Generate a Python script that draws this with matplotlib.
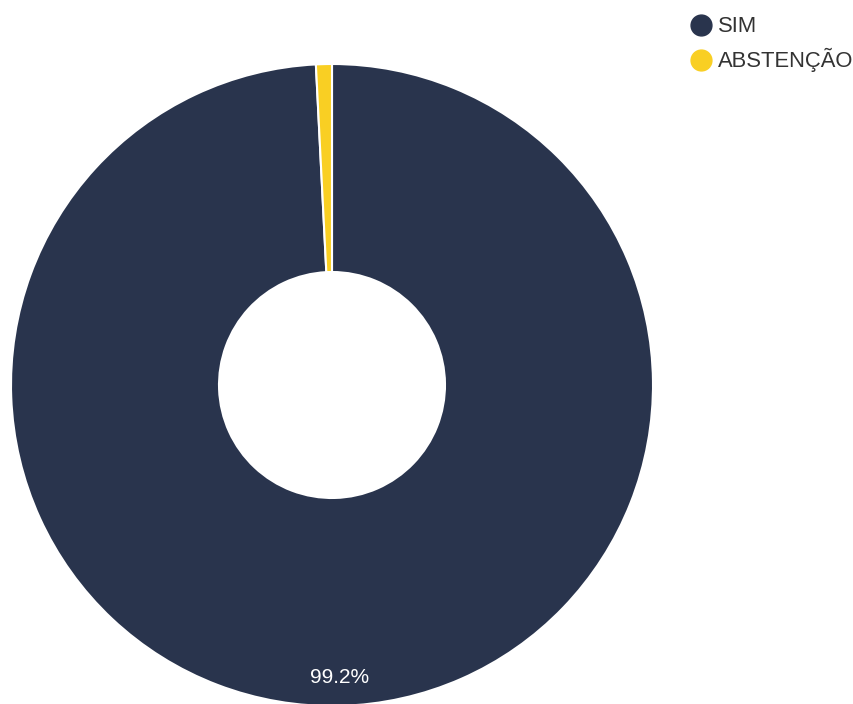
import matplotlib.pyplot as plt
from matplotlib.lines import Line2D

# Vote breakdown
labels = ['SIM', 'ABSTENÇÃO']
values = [99.2, 0.8]
colors = ['#29344d', '#f9cf23']

plt.rcParams['font.family'] = ['Liberation Sans', 'DejaVu Sans']

fig = plt.figure(figsize=(8.54, 7.04), dpi=100)
# axes placed so the donut sits at the left like the reference
ax = fig.add_axes([11 / 854, -2 / 704, 642 / 854, 642 / 704])

def fmt_pct(p):
    # only label the big slice
    return f'{p:.1f}%' if p > 5 else ''

wedges, texts, autotexts = ax.pie(
    values, colors=colors, startangle=90, counterclock=False,
    radius=1, autopct=fmt_pct, pctdistance=0.912,
    wedgeprops=dict(width=0.648, edgecolor='white', linewidth=1.5),
    textprops=dict(color='white', fontsize=15))
ax.set_xlim(-1, 1)
ax.set_ylim(-1, 1)
ax.set_aspect('equal')

handles = [Line2D([0], [0], marker='o', linestyle='', markersize=15,
                  markerfacecolor=c, markeredgecolor=c) for c in colors]
fig.legend(handles, labels, loc='upper left', bbox_to_anchor=(683 / 854, 1 - 12 / 704),
           frameon=False, fontsize=15.8, labelcolor='#333333',
           handletextpad=0.2, labelspacing=0.5, borderaxespad=0, borderpad=0.2,
           handlelength=1.2)

fig.savefig('out.png', dpi=100)
